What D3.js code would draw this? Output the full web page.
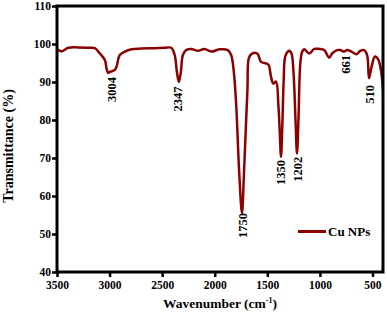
<!DOCTYPE html>
<html lang="en">
<head>
    <title>FTIR - Cu NPs</title>
    <script src="https://d3js.org/d3.v7.min.js"></script>
    <style>
        body { margin: 0; background: #fff; }
        text { font-family: "Liberation Serif", "Times New Roman", serif; font-weight: bold; }
    </style>
</head>
<body>
<script>
    // spectrum (wavenumber, transmittance)
    var wavenumber = [3500, 3488, 3455, 3393, 3300, 3200, 3140, 3092, 3045, 3029, 3014, 2995, 2981, 2950, 2934,
        2903, 2855, 2792, 2700, 2571, 2476, 2413, 2381, 2360, 2341, 2322, 2303, 2271, 2223, 2160, 2097,
        2033, 1955, 1876, 1844, 1822, 1798, 1767, 1741, 1722, 1689, 1670, 1623, 1592, 1560, 1512, 1488,
        1465, 1443, 1417, 1395, 1382, 1370, 1358, 1345, 1330, 1305, 1291, 1270, 1250, 1232, 1218, 1204,
        1186, 1168, 1149, 1101, 1054, 1007, 959, 912, 884, 836, 805, 770, 740, 700, 652, 617, 580, 551,
        533, 509, 476, 447, 419, 400];
    var transmittance = [98.6, 98.4, 98.1, 99.0, 99.1, 99.0, 98.9, 97.5, 95.8, 93.6, 92.4, 92.7, 92.8, 93.2, 94.0,
        97.1, 98.0, 98.6, 98.8, 98.9, 99.0, 99.0, 97.1, 92.7, 90.0, 92.7, 97.1, 98.4, 98.7, 98.2, 98.7,
        98.0, 98.6, 98.4, 97.1, 93.6, 85.0, 66.0, 55.5, 66.0, 88.0, 96.7, 97.7, 97.4, 95.3, 94.9, 94.5,
        91.4, 89.6, 90.1, 84.0, 77.0, 70.3, 78.0, 90.0, 96.7, 98.0, 98.2, 97.5, 92.0, 80.0, 71.2, 80.0,
        95.0, 98.0, 98.6, 97.5, 98.7, 98.7, 98.4, 96.4, 97.5, 98.4, 98.4, 98.0, 98.4, 98.0, 97.3, 98.2, 98.4, 97.1,
        91.0, 94.0, 96.7, 96.0, 93.0, 88.0];

    // peak annotations
    var peakLabels = ["3004", "2347", "1750", "1350", "1202", "661", "510"];
    var peakLabelWn = [2981, 2356, 1734, 1370, 1212, 760, 526];
    var peakLabelT = [91.3, 88.8, 55.5, 69.5, 70.3, 97.1, 89.2];

    var xTicks = [3500, 3000, 2500, 2000, 1500, 1000, 500];
    var yTicks = [40, 50, 60, 70, 80, 90, 100, 110];
    var seriesName = "Cu NPs";

    var width = 387, height = 316;
    var margin = {top: 6, right: 4, bottom: 44, left: 57};
    var lineColor = "#8b0000";

    var svg = d3.select("body").append("svg")
        .attr("width", width)
        .attr("height", height);

    // reversed wavenumber axis
    var x = d3.scaleLinear().domain([3500, 400]).range([margin.left, width - margin.right]);
    var y = d3.scaleLinear().domain([40, 110]).range([height - margin.bottom, margin.top]);

    var data = wavenumber.map(function (w, i) { return {w: w, t: transmittance[i]}; });

    var line = d3.line()
        .x(function (d) { return x(d.w); })
        .y(function (d) { return y(d.t); })
        .curve(d3.curveCatmullRom.alpha(0.5));

    svg.append("defs").append("clipPath").attr("id", "clip")
        .append("rect")
        .attr("x", margin.left).attr("y", margin.top)
        .attr("width", width - margin.left - margin.right)
        .attr("height", height - margin.top - margin.bottom);

    svg.append("path")
        .datum(data)
        .attr("clip-path", "url(#clip)")
        .attr("fill", "none")
        .attr("stroke", lineColor)
        .attr("stroke-width", 2.5)
        .attr("stroke-linejoin", "round")
        .attr("d", line);

    // peak labels, rotated
    svg.selectAll(".peak")
        .data(peakLabels)
        .enter()
        .append("text")
        .attr("class", "peak")
        .attr("transform", function (d, i) {
            return "translate(" + x(peakLabelWn[i]) + "," + y(peakLabelT[i]) + ") rotate(-90)";
        })
        .attr("text-anchor", "end")
        .attr("dy", "0.35em")
        .attr("font-size", "12.5px")
        .attr("fill", "#000")
        .text(function (d) { return d; });

    // axes
    var xAxis = svg.append("g")
        .attr("transform", "translate(0," + (height - margin.bottom) + ")")
        .call(d3.axisBottom(x).tickValues(xTicks).tickFormat(d3.format("d")).tickSize(5).tickPadding(4));
    var yAxis = svg.append("g")
        .attr("transform", "translate(" + margin.left + ",0)")
        .call(d3.axisLeft(y).tickValues(yTicks).tickFormat(d3.format("d")).tickSize(5).tickPadding(1));

    [xAxis, yAxis].forEach(function (g) {
        g.select(".domain").remove();
        g.selectAll(".tick line").attr("stroke", "#000").attr("stroke-width", 2.5);
        g.selectAll(".tick text")
            .attr("fill", "#000")
            .style("font-family", "'Liberation Serif', serif")
            .style("font-weight", "bold")
            .style("font-size", "11.5px");
    });

    // frame
    svg.append("rect")
        .attr("x", margin.left)
        .attr("y", margin.top)
        .attr("width", width - margin.left - margin.right)
        .attr("height", height - margin.top - margin.bottom)
        .attr("fill", "none")
        .attr("stroke", "#000")
        .attr("stroke-width", 3);

    // axis titles
    var xt = svg.append("text")
        .attr("x", (margin.left + width - margin.right) / 2)
        .attr("y", 308)
        .attr("text-anchor", "middle")
        .attr("font-size", "13.5px");
    xt.append("tspan").text("Wavenumber (cm");
    xt.append("tspan").attr("dy", -5).attr("font-size", "8px").text("-1");
    xt.append("tspan").attr("dy", 5).text(")");

    svg.append("text")
        .attr("transform", "translate(13,146) rotate(-90)")
        .attr("text-anchor", "middle")
        .attr("font-size", "14px")
        .text("Transmittance (%)");

    // legend
    svg.append("line")
        .attr("x1", 298).attr("x2", 326)
        .attr("y1", 231.5).attr("y2", 231.5)
        .attr("stroke", lineColor)
        .attr("stroke-width", 3);
    svg.append("text")
        .attr("x", 328)
        .attr("y", 236)
        .attr("font-size", "13px")
        .text(seriesName);
</script>
</body>
</html>
